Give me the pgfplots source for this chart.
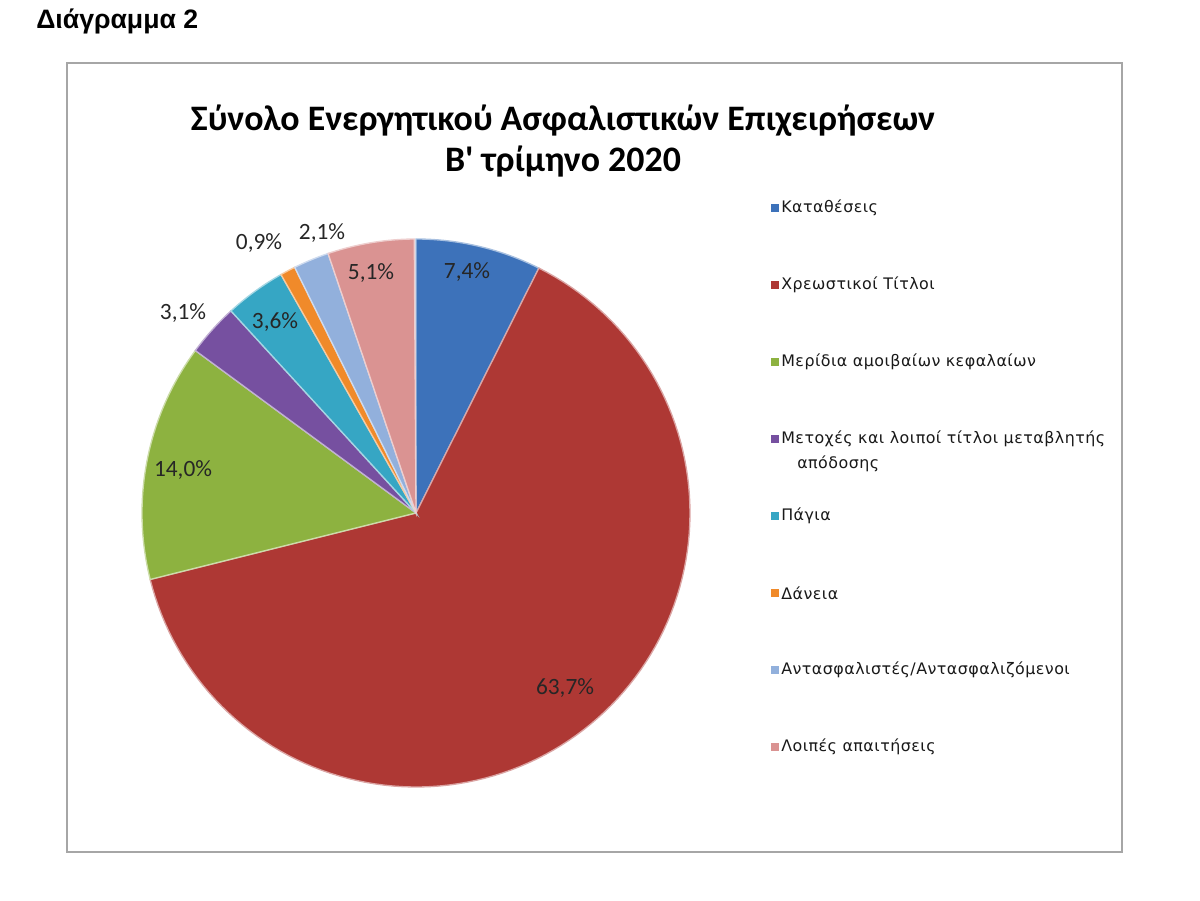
\documentclass[border=0pt]{standalone}
\usepackage{pgfplots}
\pgfplotsset{compat=1.18}
\usepackage{pgfplotstable}
\usepackage{fontspec}
\setmainfont{Carlito}
\newfontfamily\plainfont[Ligatures=TeXOff]{Carlito}
\newfontfamily\arialfont{Liberation Sans}
\newfontfamily\legfont[LetterSpace=3]{DejaVu Sans}

\definecolor{c0}{HTML}{3D72BA}
\definecolor{c1}{HTML}{AE3834}
\definecolor{c2}{HTML}{8DB240}
\definecolor{c3}{HTML}{7650A0}
\definecolor{c4}{HTML}{36A6C4}
\definecolor{c5}{HTML}{F08A2A}
\definecolor{c6}{HTML}{92B0DC}
\definecolor{c7}{HTML}{DA9392}
\definecolor{frame}{HTML}{A6A6A6}

% share (%) of each item, and where its label sits (pixel coords, y down)
\pgfplotstableread{
value lx  ly
7.4   467 272
63.7  565 688
14.0  183 470
3.1   183 313
3.6   275 322
0.9   259 243
2.1   322 233
5.1   371 273
}\piedata

\newcommand\legname[1]{\ifcase#1 Καταθέσεις\or Χρεωστικοί Τίτλοι\or
  Μερίδια αμοιβαίων κεφαλαίων\or Μετοχές και λοιποί τίτλοι μεταβλητής\or
  Πάγια\or Δάνεια\or Αντασφαλιστές/Αντασφαλιζόμενοι\or Λοιπές απαιτήσεις\fi}

\def\cx{416}
\def\cy{387}
\def\rr{274}

\begin{document}
\begin{tikzpicture}
\begin{axis}[
  scale only axis, width=900pt, height=675pt,
  xmin=0, xmax=1200, ymin=0, ymax=900,
  hide axis, clip=false,
]
\path (axis cs:0,0) rectangle (axis cs:1200,900);
\draw[frame, line width=1.1pt] (axis cs:67,837) rectangle (axis cs:1122,48);

\def\cum{0}
\pgfplotsforeachungrouped \i in {0,...,7}{%
  \pgfplotstablegetelem{\i}{value}\of\piedata \let\v\pgfplotsretval
  \pgfmathsetmacro\aa{90-3.6*\cum}
  \pgfmathsetmacro\bb{90-3.6*(\cum+\v)}
  \pgfmathsetmacro\cum{\cum+\v}
  \edef\temp{\noexpand\addplot[fill=c\i, draw=c\i!45!white, line width=1pt,
      domain=\bb:\aa, samples=120]
    ({\cx+\rr*cos(x)}, {\cy+\rr*sin(x)}) -- (axis cs:\cx,\cy) -- cycle;}
  \temp
}

\pgfplotsforeachungrouped \i in {0,...,7}{%
  \pgfplotstablegetelem{\i}{value}\of\piedata \let\v\pgfplotsretval
  \pgfplotstablegetelem{\i}{lx}\of\piedata \let\lx\pgfplotsretval
  \pgfplotstablegetelem{\i}{ly}\of\piedata \let\ly\pgfplotsretval
  \pgfmathprintnumberto[fixed, fixed zerofill, precision=1, use comma,
    assume math mode=true]{\v}\vstr
  \pgfmathsetmacro\yy{900-\ly}
  \edef\temp{\noexpand\node[font=\noexpand\fontsize{17.5}{20}\noexpand\selectfont,
      text=black!85] at (axis cs:\lx,\yy) {\vstr\noexpand\%};}
  \temp
}

% legend
\pgfplotsinvokeforeach{0,...,7}{
  \fill[c#1] (axis cs:771,{688-77*#1}) rectangle (axis cs:779,{696-77*#1});
  \node[anchor=west, inner sep=0pt, font=\legfont\fontsize{11.9}{14}\selectfont,
    text=black!90] at (axis cs:781,{692-77*#1}) {\legname{#1}};
}
\node[anchor=west, inner sep=0pt, font=\legfont\fontsize{11.9}{14}\selectfont,
  text=black!90] at (axis cs:797,436) {απόδοσης};

% titles
\node[anchor=base west, inner sep=0pt, font=\arialfont\bfseries\fontsize{20}{24}\selectfont]
  at (axis cs:36,871) {Διάγραμμα 2};
\node[anchor=base, inner sep=0pt, font=\bfseries\fontsize{26.9}{32}\selectfont]
  at (axis cs:563,769) {Σύνολο Ενεργητικού Ασφαλιστικών Επιχειρήσεων};
\node[anchor=base, inner sep=0pt, font=\plainfont\bfseries\fontsize{26.9}{32}\selectfont]
  at (axis cs:563,728) {Β' τρίμηνο 2020};
\end{axis}
\end{tikzpicture}
\end{document}
